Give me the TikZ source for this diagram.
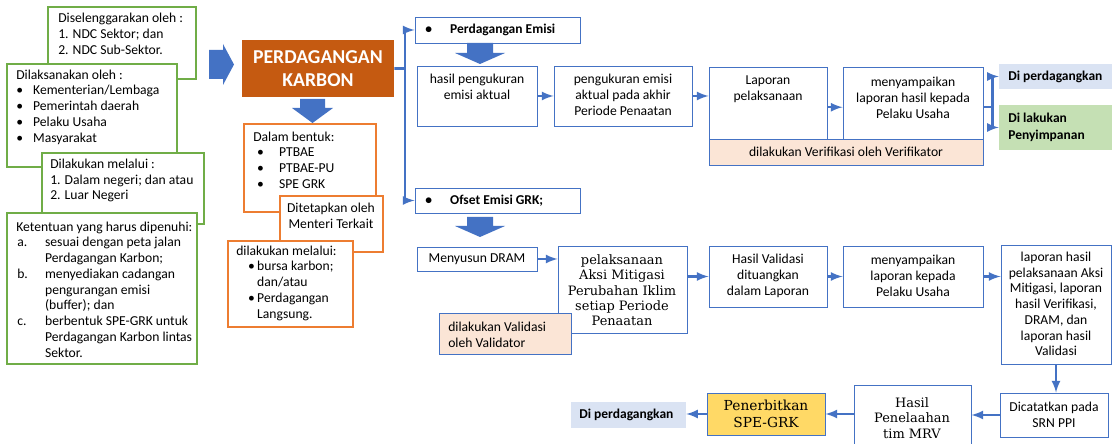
\documentclass[tikz,border=0pt]{standalone}
\usepackage{fontspec}
\setmainfont{Carlito}
\newfontfamily\slabfont{DejaVu Serif}
\usetikzlibrary{fit}
\definecolor{ngreen}{HTML}{70AD47}
\definecolor{norange}{HTML}{ED7D31}
\definecolor{nblue}{HTML}{4472C4}
\definecolor{kbrown}{HTML}{C55A11}
\definecolor{peach}{HTML}{FBE5D6}
\definecolor{lblue}{HTML}{DAE3F3}
\definecolor{lgreen}{HTML}{C5E0B4}
\definecolor{gold}{HTML}{FFD966}
\newcommand{\bul}[1]{\makebox[#1][l]{\textbullet}}
\newcommand{\lbl}[2]{\makebox[#2][l]{#1}}

\begin{document}
\begin{tikzpicture}[x=0.025cm, y=-0.025cm,
  gbox/.style={draw=ngreen, line width=0.8pt, fill=white, inner sep=0pt},
  obox/.style={draw=norange, line width=0.8pt, fill=white, inner sep=0pt},
  bbox/.style={draw=nblue, line width=0.7pt, fill=white, inner sep=0pt},
  txt/.style={inner sep=0pt, font=\fontsize{9.7}{11.2}\selectfont, align=left},
  ctxt/.style={txt, align=center},
  btxt/.style={txt, font=\fontsize{9.6}{11.8}\selectfont\bfseries},
  stxt/.style={inner sep=0pt, font=\slabfont\fontsize{9.2}{10.9}\selectfont, align=center},
  arr/.style={draw=nblue, line width=1.8pt, -latex},
  blk/.style={fill=nblue}]

\useasboundingbox (0,0) rectangle (1112,444);
\fill[white] (0,0) rectangle (1112,444);

\node[gbox, fit={(48,7) (196,79)}] (dis) {};
\node[txt, anchor=west] (dis-t) at (58,34) {Diselenggarakan oleh :\\1. NDC Sektor; dan\\2. NDC Sub-Sektor.};
\node[gbox, fit={(7,64) (177,167)}] (dil) {};
\node[txt, anchor=west] (dil-t) at (16,107) {Dilaksanakan oleh :\\\bul{12pt}Kementerian/Lembaga\\\bul{12pt}Pemerintah daerah\\\bul{12pt}Pelaku Usaha\\\bul{12pt}Masyarakat};
\node[gbox, fit={(42,153) (204,224)}] (dlk) {};
\node[txt, anchor=west] (dlk-t) at (50,180.5) {Dilakukan melalui :\\1. Dalam negeri; dan atau\\2. Luar Negeri};
\node[gbox, fit={(7,213) (197,364)}] (ket) {};
\node[txt, anchor=west] (ket-t) at (16,289.5) {Ketentuan yang harus dipenuhi:\\
  \hspace*{0.7pt}\lbl{a.}{19.8pt}sesuai dengan peta jalan\\\hspace*{20.5pt}Perdagangan Karbon;\\
  \hspace*{0.7pt}\lbl{b.}{19.8pt}menyediakan cadangan\\\hspace*{20.5pt}pengurangan emisi\\\hspace*{20.5pt}(buffer); dan\\
  \hspace*{0.7pt}\lbl{c.}{19.8pt}berbentuk SPE-GRK untuk\\\hspace*{20.5pt}Perdagangan Karbon lintas\\\hspace*{20.5pt}Sektor.};

\fill[blk] (209,50) -- (223,50) -- (223,44) -- (234,64.5) -- (223,85) -- (223,79) -- (209,79) -- cycle;

\node[fill=kbrown, inner sep=0pt, fit={(242,40) (394,97)}] (pk) {};
\node[inner sep=0pt, align=center, text=white, font=\fontsize{14}{16.3}\selectfont\bfseries] (pk-t) at (pk.center) {PERDAGANGAN\\KARBON};
\fill[blk] (300,99) -- (325,99) -- (325,108) -- (333,108) -- (312.5,123) -- (292,108) -- (300,108) -- cycle;

\node[obox, fit={(244,124) (376,212)}] (dalam) {};
\node[txt, anchor=west] (dalam-t) at (253,160) {Dalam bentuk:\\\hspace*{2.8pt}\bul{15.6pt}PTBAE\\\hspace*{2.8pt}\bul{15.6pt}PTBAE-PU\\\hspace*{2.8pt}\bul{15.6pt}SPE GRK};
\node[obox, fit={(280,196) (383,252)}] (tetap) {};
\node[ctxt] (tetap-t) at (331,216) {Ditetapkan oleh\\Menteri Terkait};
\node[obox, fit={(228,241) (353,327)}] (mel) {};
\node[txt, anchor=west] (mel-t) at (236,283) {dilakukan melalui:\\\hspace*{8.5pt}\bul{6.4pt}bursa karbon;\\\hspace*{14.9pt}dan/atau\\\hspace*{8.5pt}\bul{6.4pt}Perdagangan\\\hspace*{14.9pt}Langsung.};

\coordinate (brk) at (405,68.5);
\node[bbox, fit={(415,17) (580,43)}] (pe) {};
\node[btxt, anchor=west] (pe-t) at (425,30) {\bul{17.7pt}Perdagangan Emisi};
\node[bbox, fit={(415,188) (580,213)}] (ofs) {};
\node[btxt, anchor=west] (ofs-t) at (425,200.5) {\bul{17.7pt}Ofset Emisi GRK;};
\draw[draw=nblue, line width=1.8pt] (pk.east) -- (brk);
\draw[arr] (brk) |- (pe.west);
\draw[arr] (brk) |- (ofs.west);

\fill[blk] (467,43) -- (493,43) -- (493,53) -- (505,53) -- (480,64) -- (455,53) -- (467,53) -- cycle;
\node[bbox, fit={(417,66) (537,126)}] (h1) {};
\node[ctxt] (h1-t) at (477,86.5) {hasil pengukuran\\emisi aktual};
\node[bbox, fit={(554,66) (692,126)}] (h2) {};
\node[ctxt] (h2-t) at (623,95) {pengukuran emisi\\aktual pada akhir\\Periode Penaatan};
\node[bbox, fit={(709,67) (827,139)}] (h3) {};
\node[ctxt] (h3-t) at (768,89) {Laporan\\pelaksanaan};
\node[bbox, fit={(843,67) (983,139)}] (h4) {};
\node[ctxt] (h4-t) at (913,98) {menyampaikan\\laporan hasil kepada\\Pelaku Usaha};
\node[bbox, fill=peach, fit={(709,139) (983,165)}] (ver) {};
\node[ctxt] (ver-t) at (ver.center) {dilakukan Verifikasi oleh Verifikator};
\node[fill=lblue, inner sep=0pt, fit={(999,64) (1112,89)}] (dp1) {};
\node[btxt, anchor=west] (dp1-t) at (1008,76.5) {Di perdagangkan};
\node[fill=lgreen, inner sep=0pt, fit={(999,105) (1112,150)}] (dsp) {};
\node[btxt, anchor=west] (dsp-t) at (1008,127.5) {Di lakukan\\Penyimpanan};

\draw[arr] (h1.east) -- (h1.east -| h2.west);
\draw[arr] (h2.east) -- (h2.east -| h3.west);
\draw[arr] ([yshift=-3pt]h3.east) -- ([yshift=-3pt]h3.east -| h4.west);
\draw[draw=nblue, line width=1.8pt] ([yshift=-3pt]h4.east) -- ++(9,0) coordinate (spl);
\draw[arr] (spl) |- (dp1.west);
\draw[arr] (spl) |- (dsp.west);

\fill[blk] (467,217) -- (493,217) -- (493,226) -- (505,226) -- (480,237) -- (455,226) -- (467,226) -- cycle;
\node[bbox, fit={(417,247) (537,271)}] (dram) {};
\node[ctxt] (dram-t) at (dram.center) {Menyusun DRAM};
\node[bbox, fit={(558,246) (687,333)}] (pel) {};
\node[stxt] (pel-t) at (622,290.5) {pelaksanaan\\Aksi Mitigasi\\Perubahan Iklim\\setiap Periode\\Penaatan};
\node[bbox, fill=peach, fit={(439,313) (571,354)}] (val) {};
\node[txt, anchor=west] (val-t) at (448,334.5) {dilakukan Validasi\\oleh Validator};
\node[bbox, fit={(709,246) (827,307)}] (hv) {};
\node[ctxt] (hv-t) at (768,276) {Hasil Validasi\\dituangkan\\dalam Laporan};
\node[bbox, fit={(843,246) (983,307)}] (ml) {};
\node[ctxt] (ml-t) at (913,276) {menyampaikan\\laporan kepada\\Pelaku Usaha};
\node[bbox, fit={(1001,245) (1111,364)}] (lh) {};
\node[ctxt] (lh-t) at (1056,304) {laporan hasil\\pelaksanaan Aksi\\Mitigasi, laporan\\hasil Verifikasi,\\DRAM, dan\\laporan hasil\\Validasi};
\node[bbox, fit={(1000,393) (1108,437)}] (dct) {};
\node[ctxt] (dct-t) at (dct.center) {Dicatatkan pada\\SRN PPI};
\node[bbox, fit={(854,385) (971,452)}] (hp) {};
\node[stxt] (hp-t) at (912,418) {Hasil\\Penelaahan\\tim MRV};
\node[bbox, fill=gold, fit={(707,393) (825,435)}] (pen) {};
\node[stxt, font=\slabfont\fontsize{9.8}{12}\selectfont] (pen-t) at (pen.center) {Penerbitkan\\SPE-GRK};
\node[fill=lblue, inner sep=0pt, fit={(571,402) (686,428)}] (dp2) {};
\node[btxt, anchor=west] (dp2-t) at (579,415) {Di perdagangkan};

\draw[arr] (dram.east) -- (dram.east -| pel.west);
\draw[arr] (hv.west -| pel.east) -- (hv.west);
\draw[arr] (hv.east) -- (hv.east -| ml.west);
\draw[arr] (ml.east) -- (ml.east -| lh.west);
\draw[arr] (lh.south) -- (lh.south |- dct.north);
\draw[arr] (dct.west) -- (dct.west -| hp.east);
\draw[arr] (pen.east -| hp.west) -- (pen.east);
\draw[arr] (pen.west) -- (pen.west -| dp2.east);

\end{tikzpicture}
\end{document}
